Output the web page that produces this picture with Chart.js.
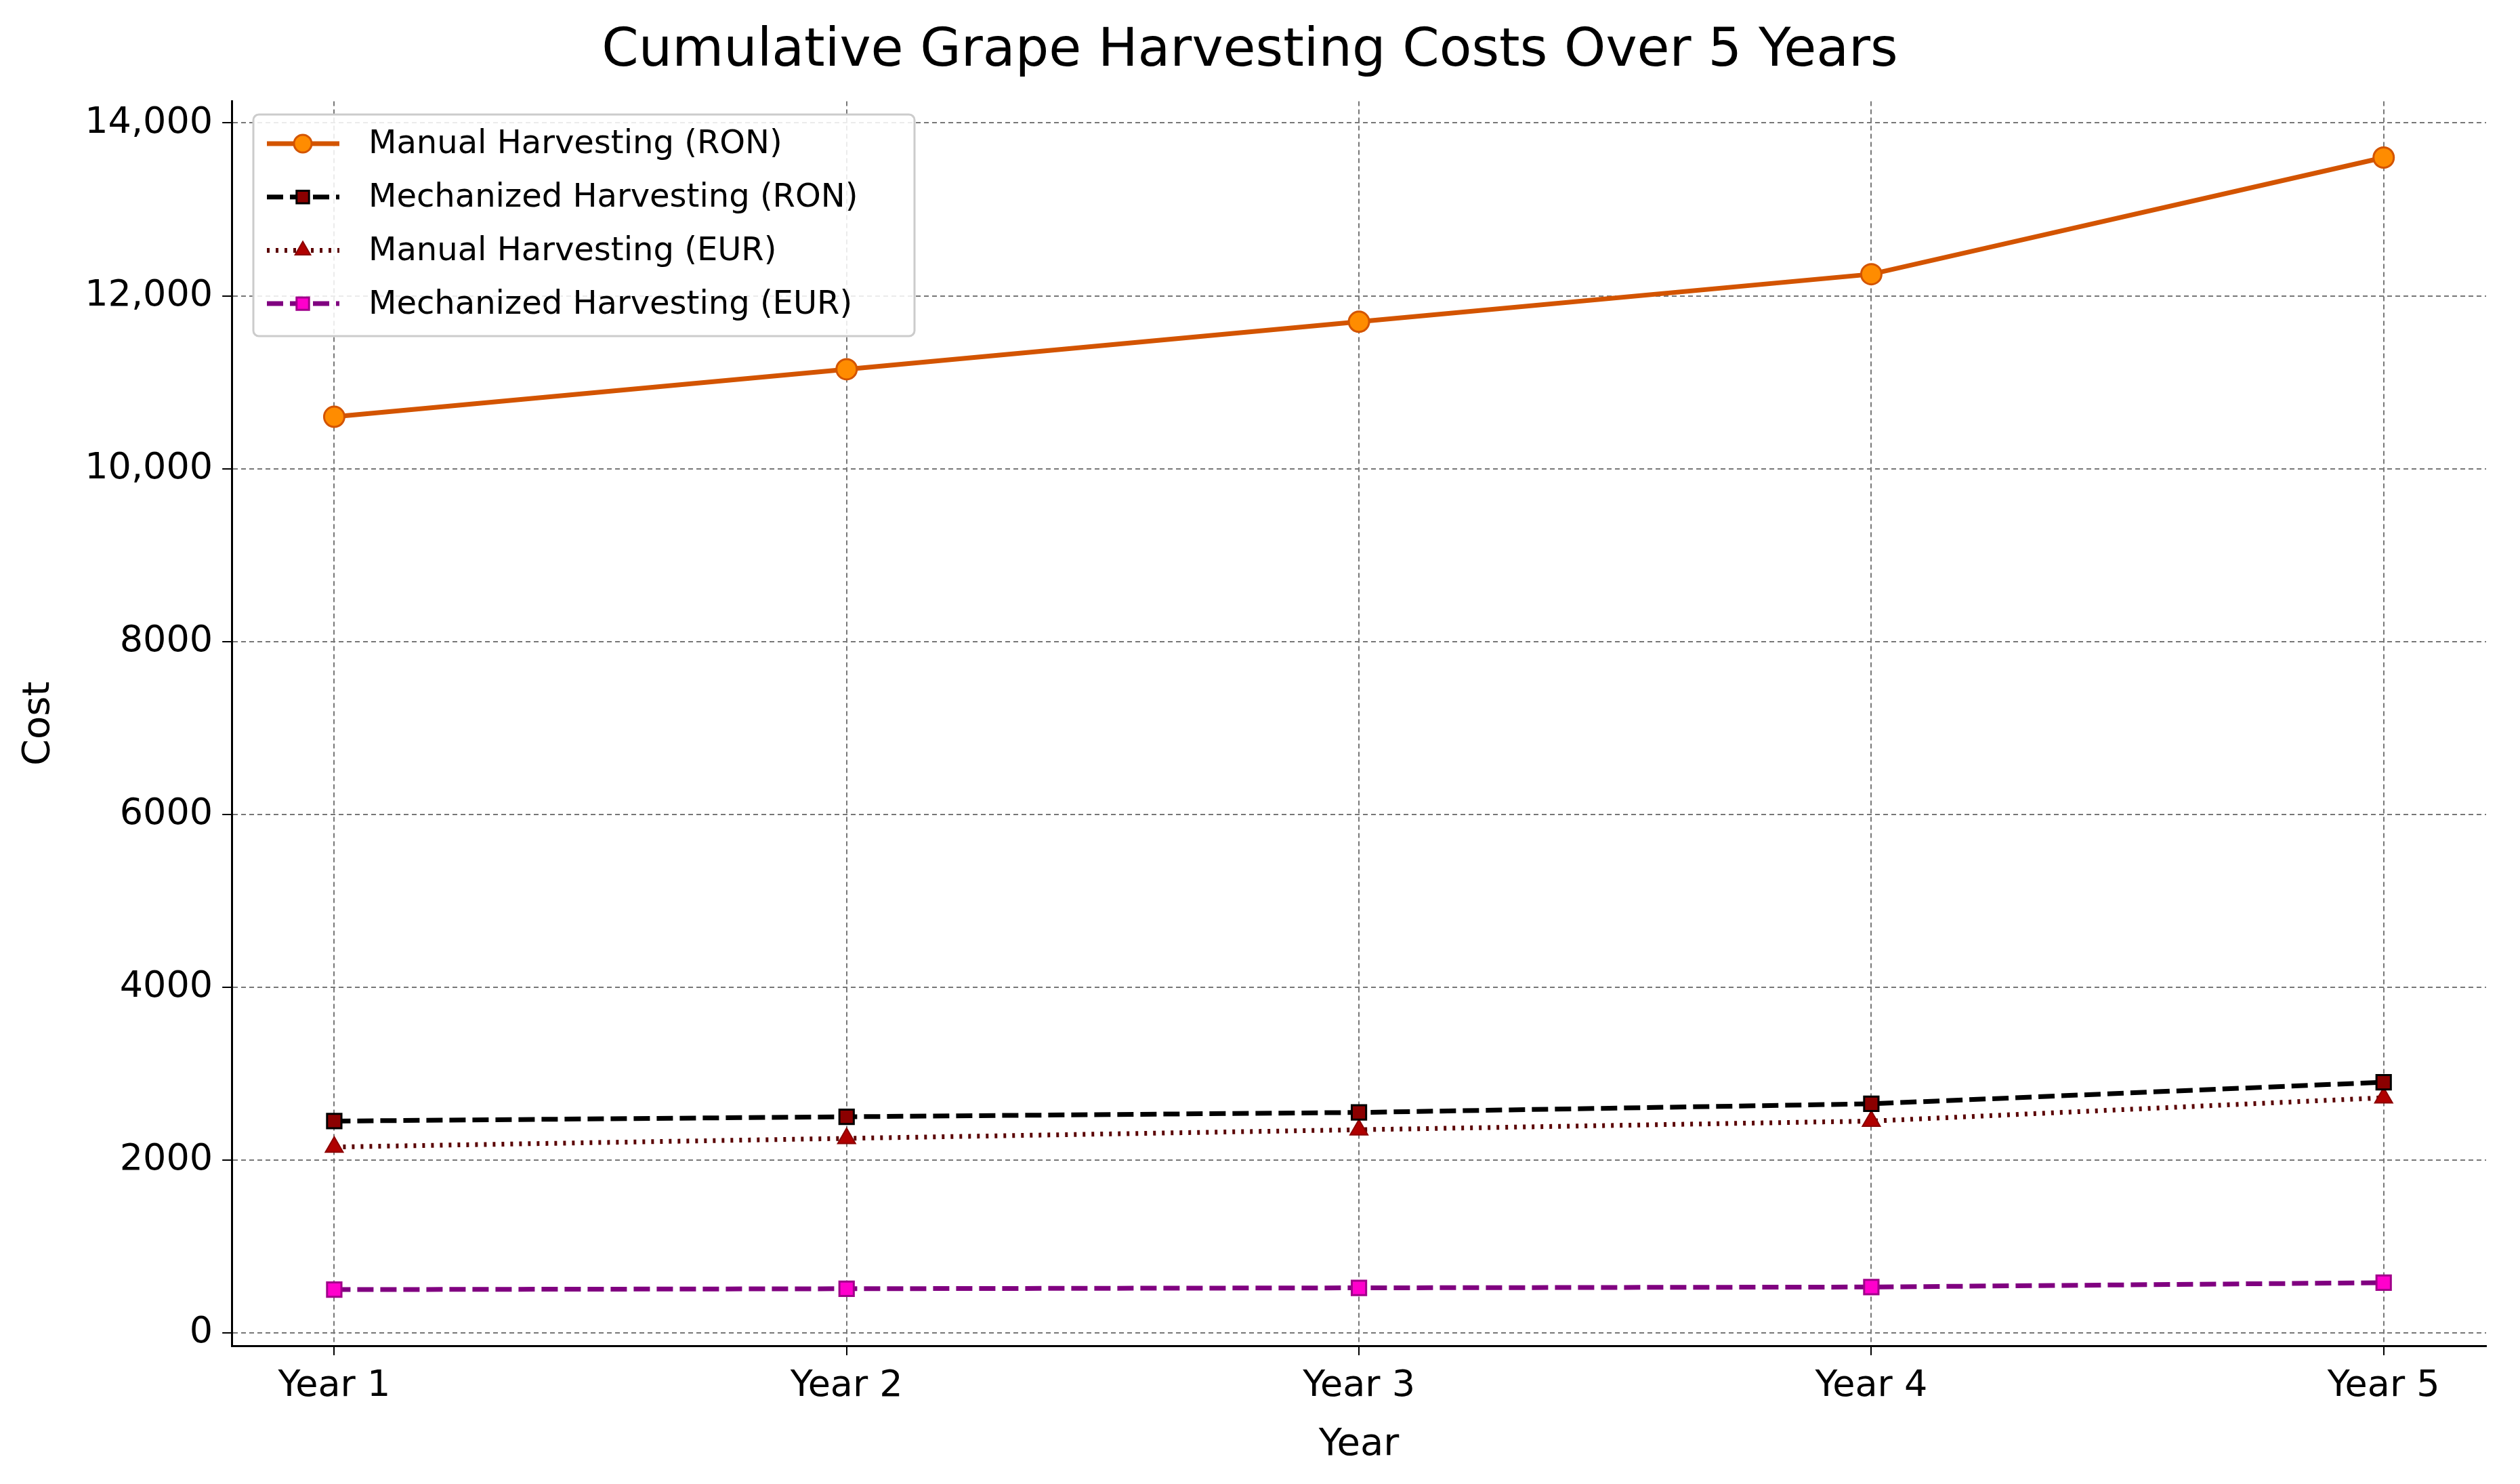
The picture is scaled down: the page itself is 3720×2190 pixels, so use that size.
<!DOCTYPE html>
<html><head><meta charset="utf-8">
<script src="https://cdn.jsdelivr.net/npm/chart.js"></script>
<style>html,body{margin:0;padding:0;background:#fff}canvas{display:block}</style>
</head><body>
<div style="width:3720px;height:2190px"><canvas id="c" width="3720" height="2190"></canvas></div>
<script>
const categories = ["Year 1","Year 2","Year 3","Year 4","Year 5"];
const manualRON = [10600, 11150, 11700, 12250, 13600];
const mechRON = [2450, 2500, 2550, 2650, 2900];
const manualEUR = [2150, 2250, 2350, 2450, 2720];
const mechEUR = [500, 510, 520, 530, 580];
const yTicks = [0,2000,4000,6000,8000,10000,12000,14000];
const yLabels = ["0","2000","4000","6000","8000","10,000","12,000","14,000"];

const F = "'DejaVu Sans', sans-serif";
function pts(arr){return arr.map((v,i)=>({x:i,y:v}));}
const ds = [
 {label:"Manual Harvesting (RON)", data:pts(manualRON), borderColor:"#d35400", borderWidth:7, pointStyle:"circle", pointRadius:15, pointBackgroundColor:"#ff8c00", pointBorderColor:"#d35400", pointBorderWidth:3, borderDash:[]},
 {label:"Mechanized Harvesting (RON)", data:pts(mechRON), borderColor:"#000000", borderWidth:7, pointStyle:"rect", pointRadius:15, pointBackgroundColor:"#8b0000", pointBorderColor:"#000000", pointBorderWidth:3, borderDash:[24,10]},
 {label:"Manual Harvesting (EUR)", data:pts(manualEUR), borderColor:"#5a0000", borderWidth:7, pointStyle:"triangle", pointRadius:15, pointBackgroundColor:"#b00000", pointBorderColor:"#8b0000", pointBorderWidth:2, borderDash:[4,9]},
 {label:"Mechanized Harvesting (EUR)", data:pts(mechEUR), borderColor:"#800080", borderWidth:7, pointStyle:"rect", pointRadius:15, pointBackgroundColor:"#ff00cc", pointBorderColor:"#a0008a", pointBorderWidth:3, borderDash:[24,10]}
];

const legendPlugin = {
 id:"mplLegend",
 afterDraw(chart){
  const ctx=chart.ctx;
  const x0=374,y0=169,w=976,h=327;
  ctx.save();
  ctx.fillStyle="rgba(255,255,255,0.85)";
  ctx.strokeStyle="#cccccc";ctx.lineWidth=3;
  ctx.beginPath();ctx.roundRect(x0,y0,w,h,8);ctx.fill();ctx.stroke();
  ctx.font="48px "+F;ctx.textBaseline="middle";
  chart.data.datasets.forEach((d,i)=>{
   const y=212+i*78.7;
   ctx.strokeStyle=d.borderColor;ctx.lineWidth=d.borderWidth;ctx.setLineDash(d.borderDash);
   ctx.beginPath();ctx.moveTo(394,y);ctx.lineTo(501,y);ctx.stroke();ctx.setLineDash([]);
   ctx.fillStyle=d.pointBackgroundColor;ctx.strokeStyle=d.pointBorderColor;ctx.lineWidth=d.pointBorderWidth;
   Chart.helpers.drawPoint(ctx,{pointStyle:d.pointStyle,radius:13,rotation:0,borderWidth:d.pointBorderWidth},447,y);
   ctx.fillStyle="#000";ctx.fillText(d.label,544,y+2);
  });
  ctx.restore();
 }
};

new Chart(document.getElementById("c"),{
 type:"line",
 data:{datasets:ds},
 plugins:[legendPlugin],
 options:{
  responsive:false,animation:false,devicePixelRatio:1,
  layout:{padding:{left:20,right:50,top:10,bottom:20}},
  plugins:{legend:{display:false},tooltip:{enabled:false},
   title:{display:true,text:"Cumulative Grape Harvesting Costs Over 5 Years",font:{family:F,size:78,weight:"normal"},color:"#000",padding:{top:20,bottom:26}}},
  scales:{
   x:{type:"linear",min:-0.2,max:4.2,
    afterBuildTicks(a){a.ticks=[0,1,2,3,4].map(v=>({value:v}));},
    ticks:{callback:(v)=>categories[v],font:{family:F,size:54},color:"#000",padding:14,maxRotation:0},
    grid:{color:"#777",lineWidth:2,tickLength:14,tickColor:"#000"},
    border:{color:"#000",width:3,dash:[7,5]},
    title:{display:true,text:"Year",font:{family:F,size:56},color:"#000",padding:{top:6}}},
   y:{min:-150,max:14250,
    afterBuildTicks(a){a.ticks=yTicks.map(v=>({value:v}));},
    ticks:{callback:(v)=>yLabels[yTicks.indexOf(v)],font:{family:F,size:54},color:"#000",padding:14},
    grid:{color:"#777",lineWidth:2,tickLength:14,tickColor:"#000"},
    border:{color:"#000",width:3,dash:[7,5]},
    title:{display:true,text:"Cost",font:{family:F,size:56},color:"#000",padding:{bottom:20}}}
  }
 },
});
</script>
</body></html>
